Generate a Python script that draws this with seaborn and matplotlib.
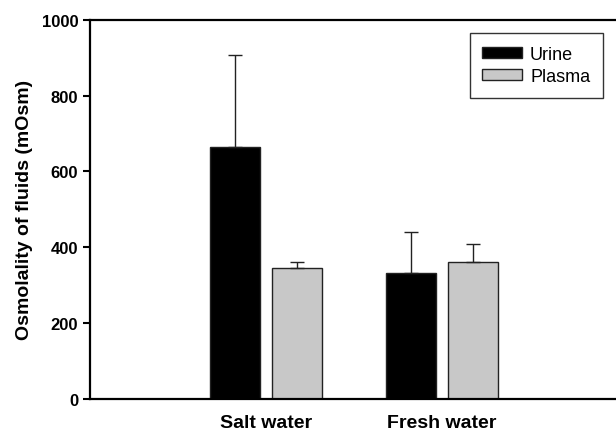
import pandas as pd
import seaborn as sns
import matplotlib.pyplot as plt

groups = ["Salt water", "Fresh water"]
fluids = ["Urine", "Plasma"]
urine_mean = [664, 332]
urine_err = [244, 107]
plasma_mean = [346, 361]
plasma_err = [15, 48]

df = pd.DataFrame({
    "group": groups * 2,
    "fluid": ["Urine"] * 2 + ["Plasma"] * 2,
    "value": urine_mean + plasma_mean,
})
errs = {"Urine": urine_err, "Plasma": plasma_err}

sns.set_style("ticks")
plt.rcParams["font.family"] = ["Liberation Sans", "DejaVu Sans"]
plt.rcParams["text.color"] = "black"
plt.rcParams["axes.labelcolor"] = "black"
plt.rcParams["xtick.color"] = "black"
plt.rcParams["ytick.color"] = "black"

fig = plt.figure(figsize=(6.16, 4.31), dpi=100)
ax = fig.add_axes([0.146, 0.072, 0.854, 0.880])

sns.barplot(data=df, x="group", y="value", hue="fluid", hue_order=fluids,
            palette=["black", "#c8c8c8"], width=0.71, gap=0.2,
            errorbar=None, edgecolor="#222222", linewidth=1, ax=ax)

for cont, fl in zip(ax.containers, fluids):
    xs = [p.get_x() + p.get_width() / 2 for p in cont]
    hs = [p.get_height() for p in cont]
    ax.errorbar(xs, hs, yerr=[[0] * len(hs), errs[fl]], fmt="none",
                ecolor="#222222", elinewidth=1, capsize=5, capthick=1)

ax.set_xlim(-1, 1.99)
ax.set_ylim(0, 1000)
ax.set_yticks([0, 200, 400, 600, 800, 1000])
ax.set_xlabel("")
ax.set_ylabel("Osmolality of fluids (mOsm)", fontsize=14, fontweight="bold", labelpad=6)
ax.tick_params(axis="x", length=0, labelsize=14, pad=11)
ax.tick_params(axis="y", length=5, width=1.5, labelsize=12, direction="out")
for lab in ax.get_xticklabels() + ax.get_yticklabels():
    lab.set_fontweight("bold")

for s in ["left", "top", "bottom"]:
    ax.spines[s].set_linewidth(1.6)
    ax.spines[s].set_color("black")
ax.spines["right"].set_visible(False)

leg = ax.legend(loc="upper right", bbox_to_anchor=(0.975, 0.965), borderaxespad=0,
                fontsize=13, frameon=True, fancybox=False, handlelength=2.2,
                handleheight=0.55, borderpad=0.7, labelspacing=0.3,
                handletextpad=0.45, title=None)
leg.get_frame().set_edgecolor("black")
leg.get_frame().set_linewidth(1)

plt.savefig("out.png", dpi=100)
